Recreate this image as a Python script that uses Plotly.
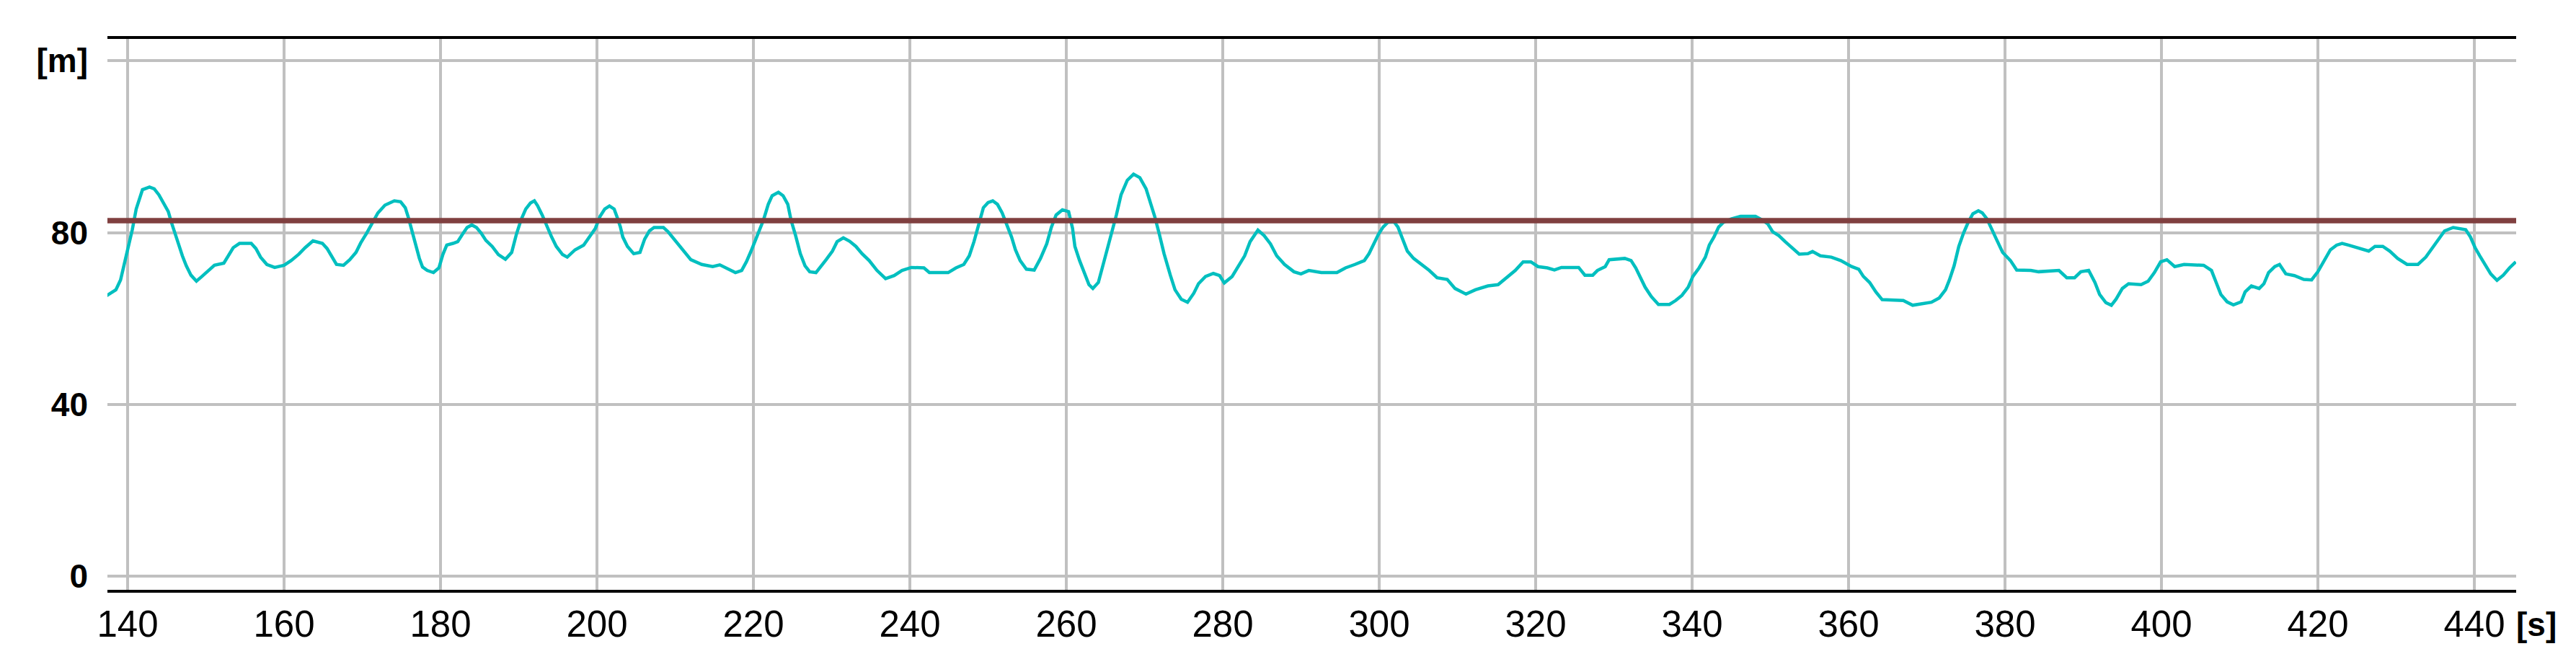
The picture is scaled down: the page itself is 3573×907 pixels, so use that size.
import plotly.graph_objects as go

# ---- data ----
time_s = [
    137.3, 138.5, 139.1, 139.6, 140.1, 140.6, 141.1, 141.5, 141.9, 142.8, 143.4, 144.0, 144.6, 145.2,
    145.6, 146.0, 146.5, 147.0, 147.5, 148.1, 148.8, 149.5, 150.3, 151.1, 152.3, 152.9, 153.5, 154.3,
    155.8, 156.4, 157.0, 157.8, 158.8, 160.0, 160.9, 161.9, 162.7, 163.7, 164.9, 165.5, 166.1, 166.7,
    167.6, 168.4, 169.2, 169.8, 170.6, 171.2, 172.0, 172.9, 174.1, 174.9, 175.5, 175.9, 176.3, 176.9,
    177.3, 177.7, 178.3, 179.1, 179.8, 180.3, 180.8, 181.6, 182.2, 182.8, 183.4, 184.0, 184.6, 185.2,
    185.8, 186.6, 187.4, 188.3, 189.1, 189.7, 190.3, 190.9, 191.5, 192.0, 192.4, 193.0, 193.6, 194.2,
    194.8, 195.6, 196.2, 197.2, 198.3, 198.9, 199.8, 200.4, 201.0, 201.6, 202.2, 202.6, 203.0, 203.3,
    203.9, 204.7, 205.5, 206.1, 206.7, 207.3, 208.5, 209.1, 209.7, 210.4, 211.2, 212.0, 213.4, 214.8,
    215.7, 216.7, 217.7, 218.5, 219.1, 219.7, 220.3, 220.7, 221.3, 221.9, 222.4, 223.2, 223.8, 224.4,
    224.8, 225.4, 226.0, 226.6, 227.2, 228.0, 228.5, 229.3, 230.1, 230.7, 231.5, 232.3, 233.1, 233.9,
    234.8, 235.8, 236.9, 238.0, 239.0, 240.2, 241.8, 242.5, 244.9, 245.9, 246.9, 247.6, 248.2, 248.8,
    249.4, 250.0, 250.6, 251.2, 251.8, 252.4, 253.0, 253.5, 254.1, 254.9, 255.9, 256.7, 257.5, 258.1,
    258.7, 259.5, 260.3, 260.8, 261.1, 261.7, 262.3, 262.9, 263.4, 264.1, 264.6, 265.2, 265.8, 266.4,
    267.0, 267.8, 268.6, 269.4, 270.2, 270.8, 271.3, 271.9, 272.5, 273.3, 273.9, 274.7, 275.5, 276.3,
    276.9, 277.8, 278.8, 279.6, 280.2, 281.2, 282.0, 282.8, 283.5, 284.5, 285.3, 286.1, 286.9, 287.9,
    289.1, 290.0, 291.0, 292.6, 294.6, 295.7, 296.9, 298.1, 298.7, 299.3, 299.9, 300.5, 301.1, 301.9,
    302.4, 303.0, 303.6, 304.4, 305.4, 306.4, 307.4, 308.7, 309.7, 311.1, 312.3, 313.9, 315.2, 316.2,
    317.4, 318.4, 319.4, 320.3, 321.5, 322.4, 323.3, 325.5, 326.3, 327.3, 327.9, 328.9, 329.4, 331.4,
    332.2, 332.8, 333.4, 334.0, 334.8, 335.7, 337.1, 337.9, 338.7, 339.5, 340.1, 340.9, 341.7, 342.2,
    342.8, 343.4, 344.0, 345.0, 346.2, 348.1, 348.9, 349.7, 350.3, 351.1, 351.9, 352.7, 353.7, 354.8,
    355.4, 356.4, 357.8, 359.0, 360.4, 361.3, 361.9, 362.7, 363.5, 364.3, 367.0, 368.2, 369.4, 370.6,
    371.6, 372.4, 372.9, 373.5, 374.1, 374.7, 375.3, 375.9, 376.6, 377.1, 377.7, 378.3, 378.9, 379.7,
    380.7, 381.5, 383.3, 384.3, 386.9, 387.9, 388.9, 389.7, 390.7, 391.5, 392.1, 392.9, 393.6, 394.2,
    395.0, 395.8, 397.4, 398.3, 399.1, 399.9, 400.7, 401.7, 402.9, 405.4, 406.4, 407.0, 407.6, 408.4,
    409.2, 410.2, 410.7, 411.5, 412.5, 413.1, 413.7, 414.5, 415.1, 415.9, 417.0, 418.2, 419.2, 420.0,
    420.8, 421.6, 422.4, 423.1, 423.9, 425.3, 426.5, 427.3, 428.3, 429.2, 430.2, 431.4, 432.8, 433.8,
    434.6, 435.4, 436.2, 437.3, 438.9, 439.5, 440.1, 440.7, 441.3, 442.1, 442.9, 443.7, 444.5, 445.3,
]
height_m = [
    65.3, 66.7, 69.0, 72.9, 76.3, 80.7, 85.5, 88.0, 90.0, 90.6, 90.2, 88.8, 86.9, 84.9,
    82.4, 79.9, 77.4, 74.6, 72.3, 70.1, 68.7, 69.8, 71.2, 72.4, 72.9, 74.6, 76.5, 77.5,
    77.5, 76.3, 74.3, 72.6, 71.9, 72.4, 73.5, 75.0, 76.5, 78.1, 77.5, 76.3, 74.3, 72.6,
    72.4, 73.7, 75.4, 77.6, 80.0, 82.1, 84.6, 86.4, 87.4, 87.2, 85.8, 83.5, 80.7, 76.8,
    74.0, 72.0, 71.2, 70.7, 71.8, 74.9, 77.1, 77.5, 77.9, 79.6, 81.2, 81.8, 81.2, 79.9,
    78.2, 76.8, 74.9, 73.8, 75.4, 79.6, 83.0, 85.5, 86.9, 87.4, 86.3, 84.1, 81.3, 79.0,
    76.8, 74.9, 74.3, 76.0, 77.1, 78.8, 81.0, 83.8, 85.5, 86.2, 85.5, 83.5, 81.3, 79.0,
    76.8, 75.1, 75.4, 78.5, 80.4, 81.2, 81.2, 80.2, 78.8, 77.4, 75.4, 73.7, 72.6, 72.1,
    72.5, 71.5, 70.7, 71.2, 73.2, 75.7, 78.5, 80.7, 83.0, 86.6, 88.6, 89.4, 88.6, 86.6,
    83.0, 79.3, 75.1, 72.3, 70.9, 70.7, 71.8, 73.7, 75.7, 77.9, 78.8, 78.0, 76.8, 75.1,
    73.5, 71.2, 69.3, 70.0, 71.2, 71.9, 71.8, 70.7, 70.7, 71.8, 72.6, 74.6, 77.9, 82.1,
    85.8, 87.0, 87.4, 86.6, 84.6, 81.8, 79.0, 76.0, 73.5, 71.5, 71.3, 74.0, 77.4, 81.3,
    84.1, 85.3, 84.9, 81.0, 76.8, 73.5, 70.7, 67.9, 67.0, 68.4, 71.8, 75.7, 79.6, 84.1,
    88.8, 92.2, 93.6, 92.8, 90.2, 86.9, 83.8, 79.6, 75.1, 70.1, 66.7, 64.5, 63.8, 65.9,
    68.1, 69.8, 70.5, 70.0, 68.3, 69.8, 72.1, 74.6, 77.9, 80.6, 79.3, 77.4, 74.6, 72.6,
    70.9, 70.4, 71.2, 70.7, 70.7, 71.8, 72.6, 73.5, 75.1, 77.4, 79.6, 81.3, 82.4, 82.5,
    81.3, 78.5, 75.7, 74.0, 72.6, 71.2, 69.5, 69.1, 67.0, 65.7, 66.7, 67.6, 67.9, 69.3,
    71.2, 73.2, 73.2, 72.1, 71.8, 71.3, 71.9, 71.9, 70.1, 70.1, 71.2, 72.1, 73.7, 74.0,
    73.5, 71.8, 69.5, 67.3, 65.1, 63.3, 63.3, 64.2, 65.4, 67.3, 69.8, 71.8, 74.3, 77.1,
    79.0, 81.3, 82.4, 83.2, 83.8, 83.8, 83.0, 82.0, 80.2, 79.3, 77.9, 76.5, 75.0, 75.1,
    75.6, 74.6, 74.3, 73.5, 72.1, 71.5, 69.8, 68.4, 66.2, 64.4, 64.2, 63.1, 63.4, 63.8,
    64.8, 66.7, 69.0, 72.3, 76.8, 79.9, 82.4, 84.4, 85.1, 84.6, 83.2, 81.0, 78.5, 75.4,
    73.5, 71.3, 71.2, 70.9, 71.2, 69.5, 69.5, 70.9, 71.2, 68.4, 65.6, 63.7, 63.1, 64.5,
    67.0, 68.1, 67.9, 68.7, 70.7, 73.2, 73.7, 72.1, 72.6, 72.4, 71.2, 68.4, 65.6, 63.9,
    63.2, 63.9, 66.2, 67.6, 67.0, 68.1, 70.7, 72.1, 72.6, 70.4, 70.0, 69.1, 69.0, 70.9,
    73.5, 76.0, 77.1, 77.5, 77.1, 76.4, 75.7, 76.8, 76.8, 75.7, 74.0, 72.6, 72.6, 74.3,
    76.3, 78.5, 80.4, 81.2, 80.7, 79.0, 76.5, 74.6, 72.9, 70.4, 68.9, 70.1, 71.8, 73.2,
]
threshold_m = 82.8

x_tick_values = [140, 160, 180, 200, 220, 240, 260, 280, 300, 320, 340, 360, 380, 400, 420, 440]
x_tick_labels = [str(v) for v in x_tick_values]
y_tick_values = [0, 40, 80, 120]
y_tick_labels = ["0", "40", "80", "[m]"]
x_unit_label = "[s]"

x_range = [137.42, 445.35]
y_range = [-3.14, 125.09]

# ---- figure ----
fig = go.Figure()
fig.add_trace(go.Scatter(
    x=time_s, y=height_m, mode="lines",
    line=dict(color="#00BFBF", width=4.5),
    showlegend=False, hoverinfo="skip",
))
fig.add_hline(y=threshold_m, line=dict(color="#804040", width=7.5), layer="above")

GRID = "#C0C0C0"
fig.update_layout(
    width=3573, height=907,
    margin=dict(l=141, r=91, t=46, b=97, pad=0),
    paper_bgcolor="white", plot_bgcolor="white",
    showlegend=False,
    xaxis=dict(
        range=x_range, tickmode="array", tickvals=x_tick_values, ticktext=x_tick_labels,
        showgrid=True, gridcolor=GRID, gridwidth=3.5, zeroline=False,
        showline=True, linecolor="black", linewidth=3.5, mirror=True,
        ticks="", ticklabelstandoff=0,
        tickfont=dict(family="Liberation Sans Narrow, Liberation Sans, Arial", size=51, color="black"),
    ),
    yaxis=dict(
        range=y_range, tickmode="array", tickvals=y_tick_values,
        ticktext=["<b>%s</b>" % t for t in y_tick_labels],
        showgrid=True, gridcolor=GRID, gridwidth=3.5, zeroline=False,
        showline=False, ticks="", ticklabelstandoff=26,
        tickfont=dict(family="Liberation Sans, Arial", size=46, color="black"),
    ),
)
fig.add_annotation(
    text="<b>%s</b>" % x_unit_label, xref="paper", yref="paper", x=1, y=0,
    xanchor="left", yanchor="middle", xshift=-2, yshift=-48, showarrow=False,
    font=dict(family="Liberation Sans, Arial", size=46, color="black"),
)

fig.write_html("out.html")
